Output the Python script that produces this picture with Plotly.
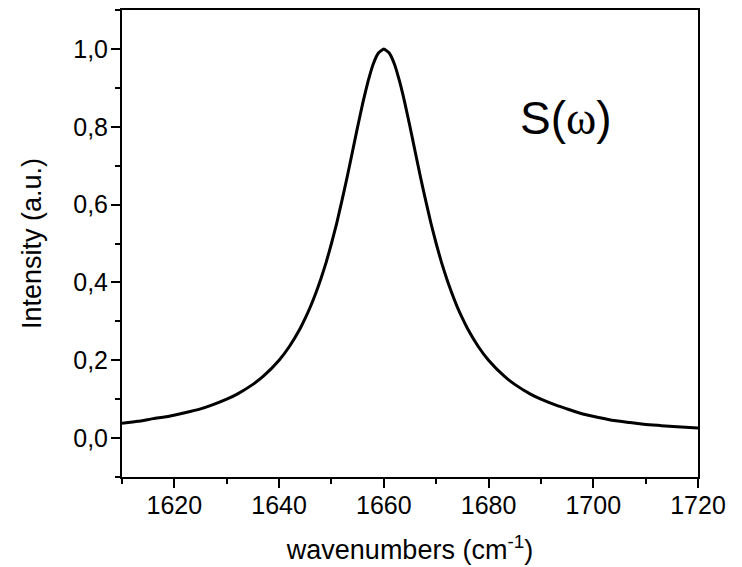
import plotly.graph_objects as go

wavenumbers = [1610, 1613, 1616, 1619, 1622, 1625, 1627, 1630, 1632, 1635, 1637, 1640, 1642, 1644,
               1645, 1646, 1647, 1648, 1649, 1650, 1651, 1652, 1653, 1654, 1655, 1656, 1657, 1658,
               1659, 1660, 1661, 1662, 1663, 1664, 1665, 1666, 1667, 1668, 1669, 1670, 1671, 1672,
               1673, 1674, 1675, 1676, 1678, 1680, 1683, 1685, 1688, 1690, 1693, 1695, 1698, 1701,
               1704, 1707, 1710, 1713, 1716, 1720]
intensity = [0.038, 0.043, 0.050, 0.056, 0.065, 0.075, 0.084, 0.100, 0.113, 0.138, 0.159, 0.200, 0.236, 0.281,
             0.308, 0.338, 0.372, 0.410, 0.452, 0.500, 0.552, 0.610, 0.671, 0.735, 0.800, 0.862, 0.917, 0.962,
             0.990, 1.000, 0.990, 0.962, 0.917, 0.862, 0.800, 0.735, 0.671, 0.610, 0.552, 0.500, 0.452, 0.410,
             0.372, 0.338, 0.308, 0.281, 0.236, 0.200, 0.159, 0.138, 0.113, 0.100, 0.084, 0.075, 0.062, 0.053,
             0.045, 0.040, 0.035, 0.032, 0.029, 0.026]

FONT = "Liberation Sans, Arial, sans-serif"

fig = go.Figure()
fig.add_trace(go.Scatter(x=wavenumbers, y=intensity, mode="lines",
                         line=dict(color="black", width=3, shape="spline", smoothing=0.4),
                         showlegend=False, hoverinfo="skip"))

fig.add_annotation(x=1694.7, y=0.822, xref="x", yref="y",
                   text='S(<span style="font-family:Liberation Serif">ω</span>)',
                   showarrow=False, font=dict(family=FONT, size=46, color="black"))

axis_common = dict(showline=True, linecolor="black", linewidth=2, mirror=True,
                   ticks="outside", ticklen=9, tickwidth=2, tickcolor="black",
                   showgrid=False, zeroline=False,
                   tickfont=dict(family=FONT, size=25, color="black"))

fig.update_xaxes(range=[1610, 1720], dtick=20, tick0=1620, ticklabelstandoff=-4,
                 minor=dict(dtick=10, tick0=1610, ticks="outside", ticklen=5, tickwidth=2, tickcolor="black"),
                 title=dict(text="wavenumbers (cm<sup>-1</sup>)", font=dict(family=FONT, size=27, color="black"),
                            standoff=22),
                 **axis_common)
fig.update_yaxes(range=[-0.1, 1.1], dtick=0.2, tick0=0, tickformat=".1f", ticklabelstandoff=-2,
                 minor=dict(dtick=0.1, tick0=-0.1, ticks="outside", ticklen=5, tickwidth=2, tickcolor="black"),
                 title=dict(text="Intensity (a.u.)", font=dict(family=FONT, size=27, color="black"),
                            standoff=24),
                 **axis_common)

fig.update_layout(width=742, height=567, margin=dict(l=114, r=52, t=0, b=98),
                  paper_bgcolor="white", plot_bgcolor="white", separators=",.",
                  font=dict(family=FONT, color="black"))

fig.write_html("out.html")
